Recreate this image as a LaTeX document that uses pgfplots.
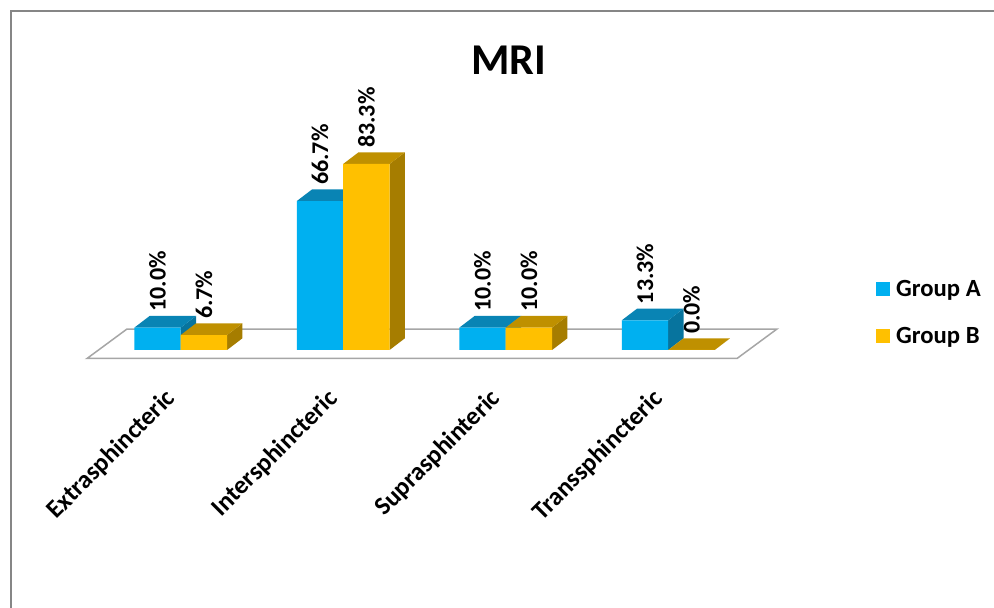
\documentclass[border=0pt]{standalone}
\usepackage{fontspec}
\setmainfont{Carlito}
\usepackage{pgfplots}
\usepackage{pgfplotstable}
\pgfplotsset{compat=1.18}

\definecolor{blueFront}{HTML}{00B0F0}
\definecolor{blueTop}{HTML}{0984B4}
\definecolor{blueSide}{HTML}{07749E}
\definecolor{goldFront}{HTML}{FFC000}
\definecolor{goldTop}{HTML}{BF9000}
\definecolor{goldSide}{HTML}{A67D00}
\definecolor{frameGray}{HTML}{868686}
\definecolor{floorGray}{HTML}{A6A6A6}

% MRI fistula classes, percentage of each group
\pgfplotstableread{
pos groupA groupB
0   10.0   6.7
1   66.7   83.3
2   10.0   10.0
3   13.3   0.0
}\mridata

% Receding faces of one bar: #1 left edge, #2 value, #3 top colour, #4 side colour
\newcommand{\barfaces}[4]{%
  \pgfmathsetmacro{\xr}{#1+0.2855}%
  \pgfmathsetmacro{\xl}{#1+0.0942}%
  \pgfmathsetmacro{\xb}{#1+0.3797}%
  \pgfmathsetmacro{\yb}{#2+5.24}%
  \addplot[forget plot,draw=none,fill=#4] coordinates {(\xr,0) (\xb,5.24) (\xb,\yb) (\xr,#2)} -- cycle;
  \addplot[forget plot,draw=none,fill=#3] coordinates {(#1,#2) (\xr,#2) (\xb,\yb) (\xl,\yb)} -- cycle;
}

% Front of a bar series: #1 colour, #2 sideways shift from the category centre
\pgfplotsset{
  frontbar/.style 2 args={
    ybar,draw=none,fill=#1,bar width=46.4pt,bar shift=#2,
    nodes near coords={\pgfmathprintnumber[fixed,fixed zerofill,precision=1,assume math mode=true]{\pgfplotspointmeta}\%},
    every node near coord/.append style={xshift=#2,yshift=16pt,rotate=90,anchor=west,inner sep=0pt,
      font=\fontsize{24}{24}\selectfont\bfseries,text=black},
  },
}

\begin{document}
\begin{tikzpicture}[x=1pt,y=1pt]
\path[use as bounding box] (0,0) rectangle (994,608);
\draw[frameGray,line width=2pt] (11,0) -- (11,597) -- (994,597);
\node[font=\fontsize{44}{44}\selectfont\bfseries] at (508.5,548) {MRI};
\begin{axis}[
  at={(0pt,233pt)},anchor=south west,
  scale only axis,width=994pt,height=275pt,
  xmin=-1.112,xmax=5.005,ymin=-11.2,ymax=111.96,
  clip=false,
  axis x line*=bottom,
  axis y line=none,
  x axis line style={draw=none},
  xtick={0,1,2,3},
  major tick length=0pt,
  xticklabels={Extrasphincteric,Intersphincteric,Suprasphinteric,Transsphincteric},
  xticklabel style={xshift=-17pt,yshift=-12pt,rotate=45,anchor=north east,font=\fontsize{25.5}{25.5}\selectfont\bfseries,inner sep=0pt},
  legend style={at={(0.8813,0.353)},anchor=north west,draw=none,fill=none,
    font=\fontsize{24.7}{24.7}\selectfont\bfseries,row sep=25pt,inner sep=0pt},
  legend cell align=left,
  legend image code/.code={\fill[#1] (0pt,-7pt) rectangle (14pt,7pt);},
]
% floor of the chart
\addplot[forget plot,draw=floorGray,line width=1.5pt,fill=white]
  coordinates {(-0.5766,-3.81) (3.4234,-3.81) (3.6695,9.40) (-0.3305,9.40)} -- cycle;

% Group A: receding faces, then fronts with their labels
\barfaces{-0.2855}{10.0}{blueTop}{blueSide}
\barfaces{0.7145}{66.7}{blueTop}{blueSide}
\barfaces{1.7145}{10.0}{blueTop}{blueSide}
\barfaces{2.7145}{13.3}{blueTop}{blueSide}
\addplot[frontbar={blueFront}{-23.2pt}] table[x=pos,y=groupA] {\mridata};
\addlegendentry{\hspace*{4pt}Group A}

% Group B
\barfaces{0}{6.7}{goldTop}{goldSide}
\barfaces{1}{83.3}{goldTop}{goldSide}
\barfaces{2}{10.0}{goldTop}{goldSide}
\barfaces{3}{0.0}{goldTop}{goldSide}
\addplot[frontbar={goldFront}{23.2pt}] table[x=pos,y=groupB] {\mridata};
\addlegendentry{\hspace*{4pt}Group B}
\end{axis}
\end{tikzpicture}
\end{document}
